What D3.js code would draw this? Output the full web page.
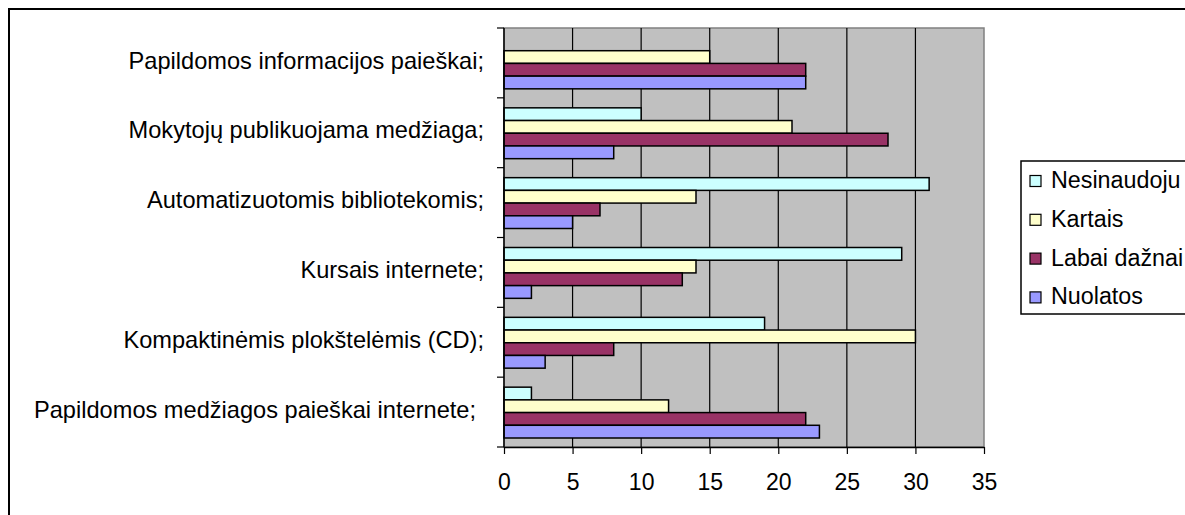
<!DOCTYPE html>
<html>
<head>
<meta charset="utf-8">
<script src="https://cdn.jsdelivr.net/npm/d3@7"></script>
<style>
  body { margin: 0; background: #fff; }
  svg { display: block; font-family: "Liberation Sans", Arial, sans-serif; }
</style>
</head>
<body>
<svg width="1185" height="515"></svg>
<script>
// categories top to bottom
const categories = [
  "Papildomos informacijos paieškai;",
  "Mokytojų publikuojama medžiaga;",
  "Automatizuotomis bibliotekomis;",
  "Kursais internete;",
  "Kompaktinėmis plokštelėmis (CD);",
  "Papildomos medžiagos paieškai internete;"
];
const seriesNames = ["Nesinaudoju", "Kartais", "Labai dažnai", "Nuolatos"];
const nesinaudoju = [0, 10, 31, 29, 19, 2];
const kartais = [15, 21, 14, 14, 30, 12];
const labaiDaznai = [22, 28, 7, 13, 8, 22];
const nuolatos = [22, 8, 5, 2, 3, 23];
const xTicks = [0, 5, 10, 15, 20, 25, 30, 35];

const colors = ["#ccffff", "#ffffcc", "#993366", "#9999ff"];
const seriesValues = [nesinaudoju, kartais, labaiDaznai, nuolatos];

const rows = [];
categories.forEach((c, i) => {
  seriesNames.forEach((s, j) => {
    rows.push({category: c, series: s, value: seriesValues[j][i], color: colors[j]});
  });
});

const svg = d3.select("svg");

// outer chart border
svg.append("rect")
  .attr("x", 9).attr("y", 9)
  .attr("width", 1200).attr("height", 520)
  .attr("fill", "none")
  .attr("stroke", "#000")
  .attr("stroke-width", 2);

const plotLeft = 504, plotRight = 984, plotTop = 28, plotBottom = 447;

let xScale = d3.scaleLinear().domain([0, 35]).range([plotLeft, plotRight]);
let yScale = d3.scaleBand().domain(categories).range([plotTop, plotBottom]).padding(0);
let ySub = d3.scaleBand().domain(seriesNames).range([10, yScale.bandwidth() - 9]).padding(0);

// plot area
svg.append("rect")
  .attr("x", plotLeft).attr("y", plotTop)
  .attr("width", plotRight - plotLeft).attr("height", plotBottom - plotTop)
  .attr("fill", "#c0c0c0")
  .attr("stroke", "#808080")
  .attr("stroke-width", 1.5);

// gridlines
svg.append("g").selectAll("line.gridline")
  .data(xTicks.slice(1, -1))
  .join("line")
  .attr("class", "gridline")
  .attr("x1", d => xScale(d)).attr("x2", d => xScale(d))
  .attr("y1", plotTop).attr("y2", plotBottom)
  .attr("stroke", "#000")
  .attr("stroke-width", 1.2);

// bars (zero values are not drawn)
svg.append("g").selectAll("rect.bar")
  .data(rows.filter(d => d.value > 0))
  .join("rect")
  .attr("class", "bar")
  .attr("x", xScale(0))
  .attr("y", d => yScale(d.category) + ySub(d.series))
  .attr("width", d => xScale(d.value) - xScale(0))
  .attr("height", ySub.bandwidth())
  .attr("fill", d => d.color)
  .attr("stroke", "#000")
  .attr("stroke-width", 1.5);

// x axis
let xAxis = d3.axisBottom(xScale).tickValues(xTicks)
  .tickSizeInner(7).tickSizeOuter(0).tickPadding(20);
svg.append("g")
  .attr("id", "xAxisG")
  .attr("transform", `translate(0, ${plotBottom})`)
  .call(xAxis);

// y axis: ticks on category boundaries
let boundaries = categories.map(c => yScale(c)).concat([plotBottom]);
svg.append("line")
  .attr("x1", plotLeft).attr("x2", plotLeft)
  .attr("y1", plotTop).attr("y2", plotBottom)
  .attr("stroke", "#000").attr("stroke-width", 1.5);
svg.append("g").selectAll("line.ytick")
  .data(boundaries)
  .join("line")
  .attr("class", "ytick")
  .attr("x1", plotLeft - 7).attr("x2", plotLeft)
  .attr("y1", d => d).attr("y2", d => d)
  .attr("stroke", "#000").attr("stroke-width", 1.2);

// category labels (the long last one sits a bit further left)
svg.append("g").selectAll("text.cat")
  .data(categories)
  .join("text")
  .attr("class", "cat")
  .attr("x", (d, i) => i === categories.length - 1 ? 476 : 484)
  .attr("y", d => yScale(d) + yScale.bandwidth() / 2)
  .attr("dy", "0.24em")
  .attr("text-anchor", "end")
  .attr("font-size", 23.6)
  .attr("fill", "#000")
  .text(d => d);

d3.selectAll("#xAxisG path.domain")
  .attr("stroke", "#000").attr("stroke-width", 1.5);
d3.selectAll("#xAxisG line").attr("stroke", "#000").attr("stroke-width", 1.2);
d3.selectAll("#xAxisG text")
  .attr("font-size", 23)
  .attr("font-family", "Liberation Sans, Arial, sans-serif")
  .attr("fill", "#000");

// legend
const legend = svg.append("g").attr("transform", "translate(1021, 161)");
legend.append("rect")
  .attr("width", 200).attr("height", 153)
  .attr("fill", "#fff")
  .attr("stroke", "#000")
  .attr("stroke-width", 1.5);
const legendItems = legend.selectAll("g.item")
  .data(seriesNames)
  .join("g")
  .attr("class", "item")
  .attr("transform", (d, i) => `translate(0, ${20 + i * 38.8})`);
legendItems.append("rect")
  .attr("x", 9).attr("y", -5.5)
  .attr("width", 11).attr("height", 11)
  .attr("fill", (d, i) => colors[i])
  .attr("stroke", "#000")
  .attr("stroke-width", 1.2);
legendItems.append("text")
  .attr("x", 30)
  .attr("dy", "0.3em")
  .attr("font-size", 23.3)
  .attr("fill", "#000")
  .text(d => d);
</script>
</body>
</html>
